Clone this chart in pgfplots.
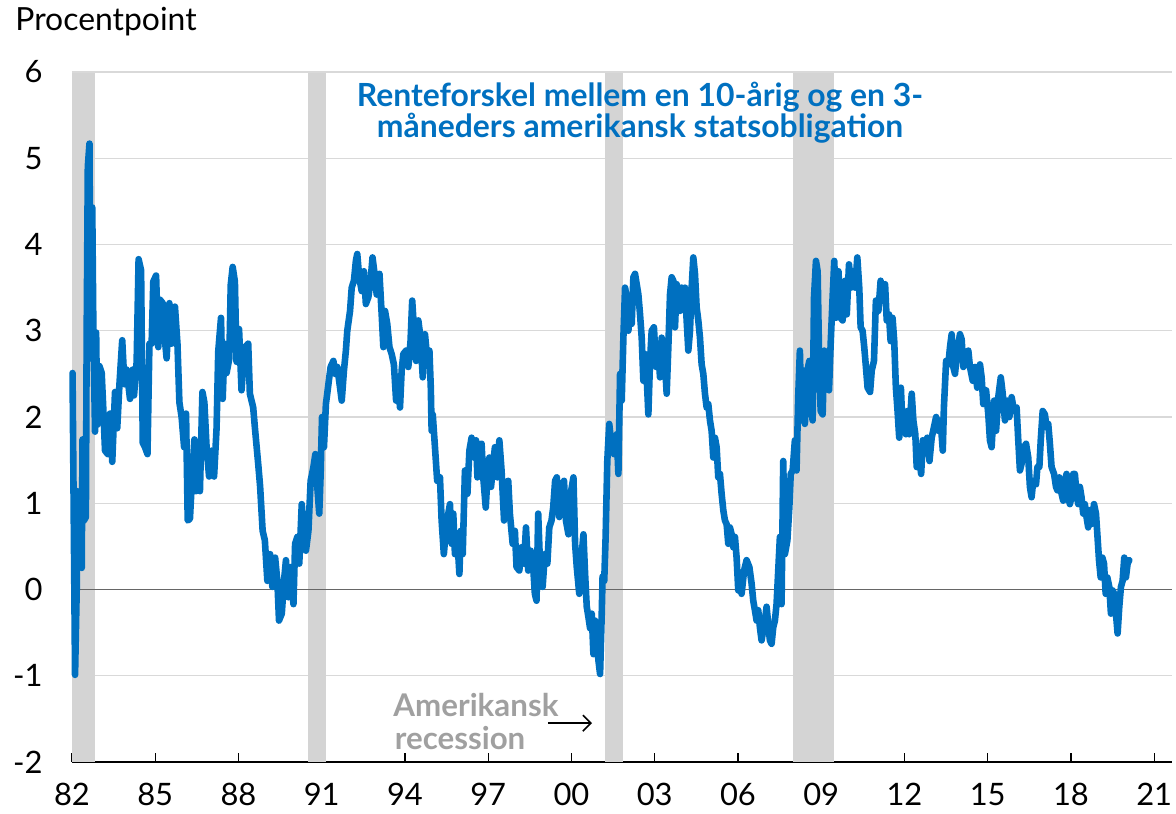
\documentclass[border=0pt]{standalone}
\usepackage{fontspec}
\setmainfont{Lato}
\usepackage{pgfplots}
\pgfplotsset{compat=1.18}
\usetikzlibrary{arrows.meta}
\definecolor{lineblue}{RGB}{0,112,192}
\definecolor{recgray}{RGB}{212,212,212}
\definecolor{gridgray}{RGB}{217,217,217}
\definecolor{annogray}{RGB}{160,160,160}
\begin{document}
\fontsize{16}{18}\selectfont
\begin{tikzpicture}
\useasboundingbox (-36bp,-26bp) rectangle (552bp,381bp);
\begin{axis}[
  at={(0,0)}, anchor=south west,
  scale only axis, width=550bp, height=345bp,
  xmin=1982, xmax=2021.64, ymin=-2, ymax=6,
  axis x line=bottom, axis y line=left,
  axis line style={-},
  x axis line style={-, black, line width=0.8bp},
  y axis line style={draw=none},
  xtick={1982,1985,...,2021},
  xticklabels={82,85,88,91,94,97,00,03,06,09,12,15,18,21},
  xtick align=inside,
  major tick length=4.5bp,
  xtick style={black, line width=0.7bp},
  ytick={-2,-1,...,6},
  ytick style={draw=none},
  ymajorgrids,
  grid style={gridgray, line width=0.7bp},
  /pgf/number format/assume math mode=true,
  tick label style={font=\fontsize{15.5}{17}\selectfont},
  yticklabel style={xshift=-7bp},
  xticklabel style={yshift=-5bp},
  clip=false,
]
% recession bars
\addplot[fill=recgray, draw=none] coordinates {(1982,-2) (1982,5.985) (1982.83,5.985) (1982.83,-2)};
\addplot[fill=recgray, draw=none] coordinates {(1990.5,-2) (1990.5,5.985) (1991.16,5.985) (1991.16,-2)};
\addplot[fill=recgray, draw=none] coordinates {(2001.21,-2) (2001.21,5.985) (2001.86,5.985) (2001.86,-2)};
\addplot[fill=recgray, draw=none] coordinates {(2007.98,-2) (2007.98,5.985) (2009.47,5.985) (2009.47,-2)};
% zero line
\addplot[gray!80!black, line width=0.9bp] coordinates {(1982,0) (2021.64,0)};
% spread
\addplot[lineblue, line width=3.3bp, line join=round, line cap=round] table {
x y
1982.02 2.51
1982.11 -0.99
1982.17 0.0
1982.19 1.14
1982.23 0.72
1982.29 0.97
1982.35 0.25
1982.38 1.74
1982.43 0.8
1982.50 0.84
1982.53 3.02
1982.57 4.9
1982.63 5.17
1982.67 2.68
1982.73 4.43
1982.77 3.02
1982.83 1.83
1982.87 2.98
1982.91 1.91
1982.99 2.59
1983.07 2.51
1983.13 2.08
1983.19 1.61
1983.29 1.57
1983.37 2.04
1983.45 1.48
1983.55 2.29
1983.63 1.87
1983.71 2.38
1983.81 2.89
1983.89 2.38
1983.97 2.55
1984.09 2.21
1984.19 2.55
1984.235 2.25
1984.33 2.64
1984.40 3.83
1984.49 3.70
1984.55 1.70
1984.63 1.65
1984.72 1.57
1984.79 2.85
1984.87 2.85
1984.93 3.57
1985.03 3.64
1985.11 2.81
1985.17 3.36
1985.27 3.32
1985.35 2.89
1985.41 2.68
1985.51 3.32
1985.59 2.85
1985.71 3.28
1985.80 2.85
1985.87 2.17
1985.95 2.0
1986.04 1.65
1986.11 2.04
1986.17 0.80
1986.25 0.82
1986.31 1.19
1986.41 1.74
1986.47 1.14
1986.55 1.31
1986.61 1.14
1986.70 2.29
1986.77 2.17
1986.85 1.65
1986.94 1.31
1987.03 1.61
1987.12 1.31
1987.21 1.87
1987.27 2.76
1987.37 3.15
1987.43 2.21
1987.50 2.85
1987.57 2.51
1987.67 2.68
1987.72 3.53
1987.79 3.74
1987.87 3.57
1987.93 2.64
1988.02 3.02
1988.11 2.31
1988.20 2.73
1988.23 2.81
1988.35 2.85
1988.41 2.27
1988.53 2.11
1988.59 1.88
1988.72 1.42
1988.78 1.19
1988.87 0.68
1988.95 0.57
1989.04 0.10
1989.14 0.41
1989.22 0.03
1989.32 0.37
1989.40 0.10
1989.46 -0.36
1989.56 -0.28
1989.64 0.10
1989.71 0.34
1989.80 -0.09
1989.88 0.26
1989.98 -0.17
1990.04 0.53
1990.12 0.61
1990.19 0.30
1990.28 0.99
1990.36 0.64
1990.43 0.45
1990.52 0.68
1990.60 1.26
1990.70 1.42
1990.77 1.57
1990.84 1.19
1990.91 0.88
1990.96 1.34
1991.01 2.0
1991.08 1.65
1991.15 2.15
1991.24 2.38
1991.32 2.58
1991.42 2.65
1991.48 2.50
1991.56 2.58
1991.66 2.34
1991.72 2.19
1991.80 2.54
1991.87 2.77
1991.92 3.0
1992.02 3.23
1992.08 3.50
1992.16 3.58
1992.23 3.81
1992.28 3.89
1992.35 3.62
1992.44 3.46
1992.52 3.69
1992.59 3.31
1992.68 3.39
1992.76 3.58
1992.83 3.85
1992.92 3.62
1992.98 3.42
1993.08 3.66
1993.16 3.19
1993.22 2.81
1993.28 3.23
1993.36 3.08
1993.44 2.81
1993.52 2.73
1993.60 2.61
1993.68 2.19
1993.76 2.38
1993.82 2.11
1993.88 2.54
1993.94 2.73
1994.04 2.77
1994.12 2.58
1994.20 2.88
1994.26 3.35
1994.32 3.04
1994.40 2.65
1994.48 3.12
1994.56 2.92
1994.64 2.46
1994.72 2.96
1994.81 2.65
1994.88 2.77
1994.93 2.34
1994.96 1.84
1995.00 2.03
1995.08 1.65
1995.16 1.26
1995.26 1.30
1995.32 0.80
1995.40 0.41
1995.48 0.72
1995.56 0.88
1995.62 0.99
1995.68 0.53
1995.74 0.88
1995.80 0.41
1995.89 0.57
1995.96 0.18
1996.01 0.68
1996.08 0.41
1996.16 1.38
1996.25 1.11
1996.32 1.61
1996.40 1.76
1996.49 1.53
1996.56 1.73
1996.61 1.30
1996.68 1.65
1996.76 1.69
1996.82 1.30
1996.91 0.95
1996.97 1.30
1997.04 1.53
1997.10 1.19
1997.18 1.46
1997.24 1.65
1997.33 1.30
1997.40 1.73
1997.48 1.38
1997.57 0.80
1997.64 1.15
1997.72 1.26
1997.78 0.88
1997.88 0.53
1997.96 0.68
1998.02 0.26
1998.12 0.22
1998.20 0.49
1998.29 0.30
1998.36 0.72
1998.44 0.22
1998.53 0.45
1998.62 0.26
1998.68 -0.05
1998.74 -0.13
1998.80 0.88
1998.86 0.34
1998.96 0.03
1999.04 0.41
1999.13 0.30
1999.20 0.72
1999.28 0.80
1999.34 0.95
1999.41 1.26
1999.47 1.30
1999.56 0.84
1999.65 1.19
1999.73 1.26
1999.80 0.80
1999.89 0.64
1999.97 1.11
2000.07 1.30
2000.13 0.53
2000.19 0.26
2000.28 -0.05
2000.37 0.41
2000.43 0.64
2000.49 0.18
2000.55 -0.20
2000.61 -0.32
2000.67 -0.45
2000.73 -0.28
2000.79 -0.75
2000.85 -0.36
2000.91 -0.51
2000.97 -0.82
2001.03 -0.98
2001.09 -0.28
2001.12 0.15
2001.18 0.10
2001.23 0.61
2001.29 1.49
2001.36 1.92
2001.45 1.65
2001.53 1.57
2001.63 1.80
2001.69 1.34
2001.75 2.50
2001.81 2.19
2001.87 2.92
2001.93 3.50
2001.99 3.39
2002.05 3.0
2002.11 3.23
2002.17 3.08
2002.23 3.62
2002.29 3.66
2002.35 3.54
2002.41 3.42
2002.47 3.19
2002.53 2.92
2002.59 2.42
2002.65 2.73
2002.71 2.46
2002.77 2.03
2002.83 2.65
2002.89 3.0
2002.97 3.04
2003.05 2.58
2003.11 2.85
2003.19 2.46
2003.25 2.92
2003.31 2.77
2003.37 2.61
2003.43 2.27
2003.49 2.81
2003.55 3.42
2003.61 3.62
2003.67 3.58
2003.73 3.04
2003.79 3.54
2003.85 3.42
2003.91 3.23
2003.97 3.50
2004.03 3.31
2004.09 3.50
2004.15 3.12
2004.21 2.77
2004.27 3.0
2004.33 3.50
2004.39 3.85
2004.45 3.66
2004.51 3.27
2004.57 3.12
2004.63 2.92
2004.69 2.61
2004.75 2.50
2004.81 2.27
2004.87 2.11
2004.93 2.15
2004.99 1.96
2005.05 1.84
2005.11 1.53
2005.17 1.76
2005.23 1.65
2005.29 1.30
2005.35 1.34
2005.41 1.11
2005.47 0.92
2005.53 0.80
2005.59 0.76
2005.65 0.53
2005.71 0.72
2005.77 0.64
2005.83 0.49
2005.89 0.61
2005.95 0.37
2006.01 -0.01
2006.07 0.03
2006.13 -0.05
2006.22 0.22
2006.31 0.34
2006.41 0.26
2006.49 0.07
2006.55 -0.13
2006.61 -0.24
2006.67 -0.36
2006.73 -0.24
2006.79 -0.44
2006.85 -0.59
2006.91 -0.47
2006.97 -0.36
2007.03 -0.20
2007.09 -0.40
2007.15 -0.59
2007.21 -0.63
2007.27 -0.44
2007.33 -0.36
2007.39 -0.17
2007.45 0.22
2007.51 0.61
2007.57 -0.17
2007.63 1.49
2007.69 0.41
2007.78 0.57
2007.85 0.95
2007.90 1.34
2007.97 1.38
2008.05 1.73
2008.11 1.38
2008.17 2.23
2008.23 2.77
2008.29 1.96
2008.35 2.54
2008.41 1.92
2008.50 2.54
2008.57 2.65
2008.63 2.11
2008.69 1.96
2008.74 3.39
2008.81 3.81
2008.87 3.69
2008.93 2.54
2008.98 2.07
2009.05 2.03
2009.11 2.77
2009.20 2.50
2009.28 2.31
2009.34 2.85
2009.41 3.39
2009.47 3.81
2009.53 3.15
2009.62 3.69
2009.70 3.15
2009.77 3.12
2009.86 3.58
2009.92 3.19
2010.00 3.77
2010.07 3.50
2010.16 3.69
2010.22 3.50
2010.30 3.85
2010.37 3.50
2010.42 3.04
2010.49 3.0
2010.55 2.81
2010.61 2.58
2010.67 2.34
2010.76 2.29
2010.82 2.54
2010.90 2.65
2010.97 3.35
2011.06 3.23
2011.14 3.58
2011.21 3.35
2011.30 3.54
2011.36 3.12
2011.44 3.19
2011.50 2.88
2011.57 3.15
2011.63 2.88
2011.69 2.34
2011.75 2.07
2011.81 1.76
2011.87 2.34
2011.93 1.88
2011.99 1.96
2012.05 1.80
2012.11 2.07
2012.17 1.80
2012.26 2.27
2012.32 1.96
2012.39 1.80
2012.44 1.42
2012.52 1.57
2012.60 1.34
2012.66 1.73
2012.74 1.65
2012.82 1.76
2012.90 1.49
2012.98 1.76
2013.06 1.88
2013.14 2.0
2013.22 1.84
2013.30 1.96
2013.38 1.61
2013.42 2.11
2013.50 2.65
2013.58 2.61
2013.64 2.81
2013.70 2.96
2013.76 2.58
2013.82 2.50
2013.90 2.77
2014.00 2.96
2014.06 2.90
2014.12 2.58
2014.22 2.65
2014.30 2.77
2014.36 2.58
2014.46 2.42
2014.54 2.58
2014.62 2.34
2014.72 2.61
2014.78 2.46
2014.84 2.15
2014.94 2.31
2015.02 2.03
2015.08 1.73
2015.14 1.65
2015.23 2.19
2015.30 1.84
2015.38 2.23
2015.47 2.46
2015.54 2.27
2015.62 1.96
2015.71 2.19
2015.78 2.0
2015.86 2.23
2015.95 2.07
2016.04 2.11
2016.10 1.73
2016.16 1.38
2016.22 1.46
2016.31 1.65
2016.38 1.69
2016.46 1.53
2016.52 1.19
2016.58 1.07
2016.64 1.26
2016.74 1.22
2016.79 1.42
2016.86 1.42
2016.91 1.73
2016.98 2.07
2017.06 2.03
2017.12 1.88
2017.18 1.92
2017.24 1.69
2017.30 1.42
2017.39 1.34
2017.46 1.19
2017.51 1.15
2017.58 1.30
2017.66 1.11
2017.72 1.03
2017.78 1.26
2017.84 1.34
2017.90 1.07
2017.96 0.99
2018.02 1.07
2018.08 1.34
2018.14 1.34
2018.20 1.11
2018.26 0.99
2018.32 1.19
2018.38 1.07
2018.44 0.88
2018.50 0.99
2018.56 0.84
2018.62 0.72
2018.68 0.92
2018.75 0.76
2018.83 0.99
2018.90 0.88
2018.95 0.64
2019.01 0.34
2019.07 0.14
2019.13 0.37
2019.19 0.30
2019.25 -0.05
2019.31 0.14
2019.38 0.03
2019.44 -0.28
2019.50 -0.01
2019.56 -0.05
2019.62 -0.28
2019.68 -0.51
2019.74 -0.20
2019.80 0.03
2019.86 0.10
2019.92 0.37
2019.98 0.14
2020.04 0.30
2020.10 0.34
};
% title
\node[align=center, text=lineblue, font=\bfseries\fontsize{16}{15.8}\selectfont] at (axis cs:2002.47,5.53)
  {Renteforskel mellem en 10-årig og en 3-\\måneders amerikansk statsobligation};
% annotation
\node[anchor=base west, inner sep=0, text=annogray, font=\bfseries\fontsize{15.7}{17}\selectfont] at (axis cs:1993.57,-1.47) {Amerikansk};
\node[anchor=base west, inner sep=0, text=annogray, font=\bfseries\fontsize{15.7}{17}\selectfont] at (axis cs:1993.62,-1.86) {recession};
\draw[-{Straight Barb[length=4bp,width=8bp]}, black, line width=0.8bp] (axis cs:1999.15,-1.55) -- (axis cs:2000.74,-1.55);
\end{axis}
\node[anchor=base west, inner sep=0, font=\fontsize{16}{18}\selectfont] at (-28.5bp,365.5bp) {Procentpoint};
\end{tikzpicture}
\end{document}
